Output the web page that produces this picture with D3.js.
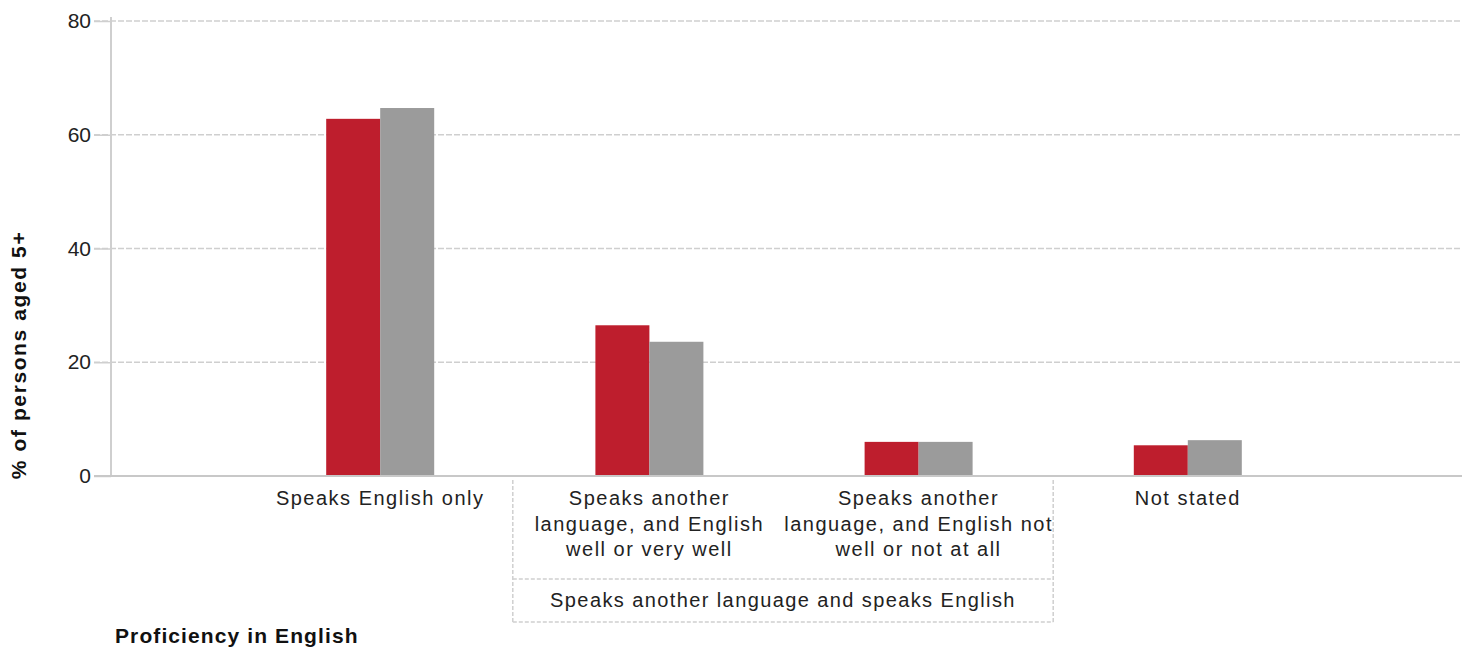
<!DOCTYPE html>
<html><head><meta charset="utf-8">
<script src="https://cdn.jsdelivr.net/npm/d3@7"></script>
<style>body{margin:0;background:#fff}svg{display:block}text{font-family:"Liberation Sans",Arial,sans-serif}</style>
</head><body><svg id="c" width="1466" height="651"></svg>
<script>
const categories = ["Speaks English only", "Speaks another language, and English well or very well", "Speaks another language, and English not well or not at all", "Not stated"];
const categoryLines = [["Speaks English only"], ["Speaks another", "language, and English", "well or very well"], ["Speaks  another", "language, and English not", "well or  not at all"], ["Not stated"]];
const seriesNames = ["Area", "Comparison"];
const seriesA = [62.8, 26.5, 6.0, 5.4];
const seriesB = [64.7, 23.6, 6.0, 6.3];
const yTicks = [0, 20, 40, 60, 80];
const groupLabel = "Speaks another language and speaks English";
const groupMembers = [1, 2];
const xTitle = "Proficiency in English";
const yTitle = "% of persons aged 5+";
const colors = ["#be1e2d", "#9b9b9b"];

const svg = d3.select("#c");
const L = 111, R = 1462, T = 21, B = 476;
const x = d3.scalePoint().domain(categories).range([L, 1457]).padding(1);
const y = d3.scaleLinear().domain([0, 80]).range([B, T]);
const barW = 54;

// gridlines
svg.append("g").selectAll("line").data(yTicks.filter(d => d > 0)).join("line")
  .attr("x1", 94).attr("x2", R).attr("y1", d => y(d)).attr("y2", d => y(d))
  .attr("stroke", "#cfcfcf").attr("stroke-width", 1.5).attr("stroke-dasharray", "6,2");
// y axis
const yAxis = svg.append("g").attr("transform", `translate(${L},0)`)
  .call(d3.axisLeft(y).tickValues(yTicks).tickSize(17).tickPadding(3));
yAxis.select(".domain").remove();
yAxis.selectAll(".tick line").attr("stroke", "#cfcfcf").attr("stroke-width", 1.5);
yAxis.selectAll(".tick text").attr("font-size", 21).attr("fill", "#222").attr("font-family", "Liberation Sans, Arial, sans-serif");
svg.append("line").attr("x1", L).attr("x2", L).attr("y1", 17).attr("y2", B)
  .attr("stroke", "#cfcfcf").attr("stroke-width", 2);

// bars
const series = [seriesA, seriesB];
series.forEach((vals, si) => {
  svg.append("g").selectAll("rect").data(vals).join("rect")
    .attr("x", (d, i) => x(categories[i]) - barW + si * barW)
    .attr("y", d => y(d)).attr("width", barW).attr("height", d => B - y(d))
    .attr("fill", colors[si]);
});

// baseline
svg.append("line").attr("x1", 94).attr("x2", R).attr("y1", B).attr("y2", B)
  .attr("stroke", "#c8c8c8").attr("stroke-width", 2);

// category labels
const lab = svg.append("g").attr("font-size", 20).attr("fill", "#222").attr("text-anchor", "middle").attr("letter-spacing", 1.5);
categories.forEach((c, i) => {
  categoryLines[i].forEach((ln, j) => {
    lab.append("text").attr("x", x(c)).attr("y", 505 + j * 25.5).text(ln);
  });
});

// group bracket
const step = x.step();
const gx0 = x(categories[groupMembers[0]]) - step / 2 - 2;
const gx1 = x(categories[groupMembers[1]]) + step / 2;
const br = svg.append("g").attr("stroke", "#cfcfcf").attr("stroke-width", 1.5).attr("stroke-dasharray", "4,2").attr("fill", "none");
br.append("line").attr("x1", gx0).attr("x2", gx0).attr("y1", 480).attr("y2", 622);
br.append("line").attr("x1", gx1).attr("x2", gx1).attr("y1", 480).attr("y2", 622);
br.append("line").attr("x1", gx0).attr("x2", gx1).attr("y1", 579).attr("y2", 579);
br.append("line").attr("x1", gx0).attr("x2", gx1).attr("y1", 622).attr("y2", 622);
lab.append("text").attr("x", (gx0 + gx1) / 2).attr("y", 607).attr("letter-spacing", 1.4).text(groupLabel);

// titles
svg.append("text").attr("x", 115).attr("y", 643).attr("font-size", 21).attr("font-weight", "bold").attr("fill", "#111").attr("letter-spacing", 1.1).text(xTitle);
svg.append("text").attr("transform", "translate(26,355) rotate(-90)").attr("text-anchor", "middle")
  .attr("font-size", 21).attr("font-weight", "bold").attr("fill", "#111").attr("letter-spacing", 1.6).text(yTitle);
</script></body></html>
